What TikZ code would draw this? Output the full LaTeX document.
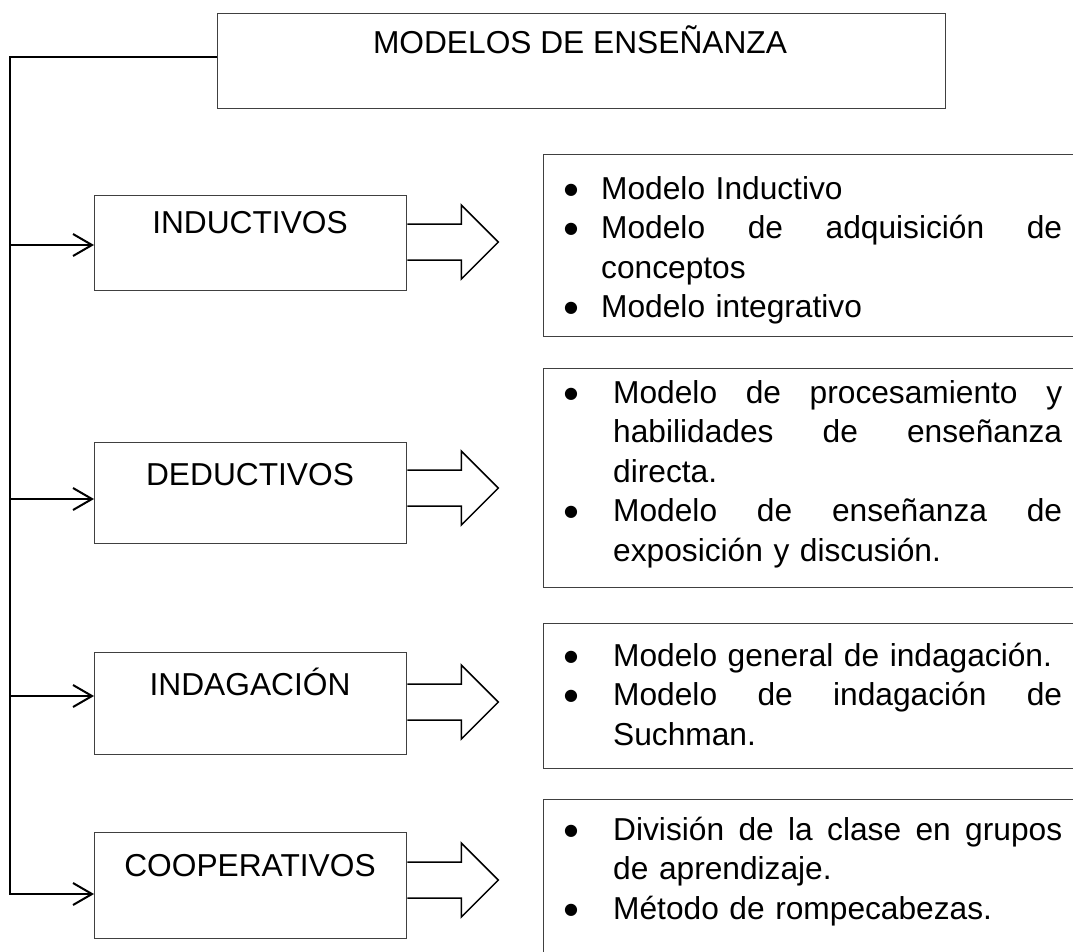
\documentclass[tikz,border=0pt]{standalone}
\usepackage{fontspec}
\setmainfont{Liberation Sans}
\newfontfamily\djv{DejaVu Sans}
\usetikzlibrary{arrows.meta}
\newcommand\bulglyph{{\djv\fontsize{16}{16}\selectfont\raisebox{5pt}{●}}}
\newcommand\bul[1]{\leavevmode\llap{\makebox[10pt][c]{\bulglyph}\hspace{#1pt}}}
\newcommand\jl[2]{{\spaceskip=0.278em plus 1fil\relax\makebox[#1pt][s]{#2}}}
\newcommand\barrow[2]{\draw[barrow] (#1.east |- 0,#2) ++(0,-18) -- ++(54,0) -- ++(0,-19) -- ++(37,37) -- ++(-37,37) -- ++(0,-19) -- ++(-54,0);}
\begin{document}
\begin{tikzpicture}[x=1pt,y=-1pt,
  every node/.style={font=\fontsize{31.7}{39.5}\selectfont, inner sep=0pt},
  boxst/.style={draw=black!75, line width=1.3pt, rectangle, anchor=north west},
  conn/.style={draw=black, line width=2pt},
  tip/.style={-{Straight Barb[length=19pt,width=22pt]}},
  barrow/.style={draw=black, line width=1.5pt, line join=miter},
  rtext/.style={anchor=base west, text width=490pt}]
\useasboundingbox (0,0) rectangle (1073,951);
\fill[white] (0,0) rectangle (1073,951);
\clip (0,0) rectangle (1073,951);

% title
\node[boxst, minimum width=728pt, minimum height=95pt] (title) at (217,13) {};
\node[anchor=base] (titletext) at (580,53) {MODELOS DE ENSEÑANZA};

% left boxes
\node[boxst, minimum width=312pt, minimum height=95pt] (ind) at (94,195) {};
\node[boxst, minimum width=312pt, minimum height=101pt] (ded) at (94,442) {};
\node[boxst, minimum width=312pt, minimum height=102pt] (indag) at (94,652) {};
\node[boxst, minimum width=312pt, minimum height=106pt] (coop) at (94,832) {};
\node[anchor=base] (indt) at (250,233) {INDUCTIVOS};
\node[anchor=base] (dedt) at (250,485) {DEDUCTIVOS};
\node[anchor=base] (indagt) at (250,695) {INDAGACIÓN};
\node[anchor=base] (coopt) at (250,876) {COOPERATIVOS};

% right boxes
\node[boxst, minimum width=547pt, minimum height=182pt] (r1) at (543,154) {};
\node[boxst, minimum width=547pt, minimum height=219pt] (r2) at (543,368) {};
\node[boxst, minimum width=547pt, minimum height=145pt] (r3) at (543,623) {};
\node[boxst, minimum width=547pt, minimum height=180pt] (r4) at (543,799) {};

\node[rtext] (r1t) at (601,199) {%
\bul{25}Modelo Inductivo\\
\bul{25}\jl{461}{Modelo de adquisición de}\\
conceptos\\
\bul{25}Modelo integrativo};

\node[rtext] (r2t) at (613,403) {%
\bul{37}\jl{449}{Modelo de procesamiento y}\\
\jl{449}{habilidades de enseñanza}\\
directa.\\
\bul{37}\jl{449}{Modelo de enseñanza de}\\
exposición y discusión.};

\node[rtext] (r3t) at (613,666) {%
\bul{37}Modelo general de indagación.\\
\bul{37}\jl{449}{Modelo de indagación de}\\
Suchman.};

\node[rtext] (r4t) at (613,840) {%
\bul{37}\jl{449}{División de la clase en grupos}\\
de aprendizaje.\\
\bul{37}Método de rompecabezas.};

% connectors
\coordinate (top) at (10,57);
\coordinate (bot) at (10,894);
\coordinate (a1) at (10,245);
\coordinate (a2) at (10,499);
\coordinate (a3) at (10,696);
\draw[conn, tip, line join=miter] (title.west |- top) -- (top) -- (bot) -- (bot -| coop.west);
\draw[conn, tip] (a1) -- (a1 -| ind.west);
\draw[conn, tip] (a2) -- (a2 -| ded.west);
\draw[conn, tip] (a3) -- (a3 -| indag.west);

% block arrows
\barrow{ind}{242}
\barrow{ded}{488}
\barrow{indag}{702}
\barrow{coop}{880}
\end{tikzpicture}
\end{document}
